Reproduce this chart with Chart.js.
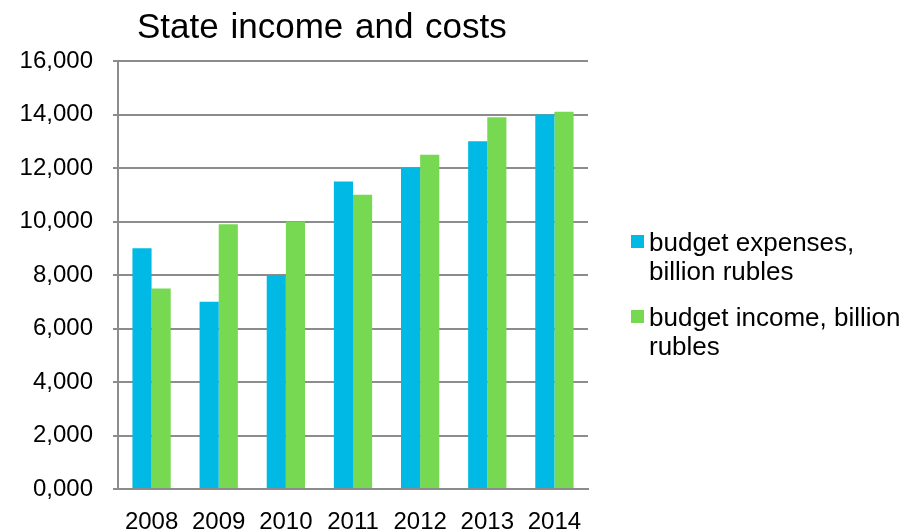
<!DOCTYPE html>
<html>
<head>
<meta charset="utf-8">
<script src="https://cdn.jsdelivr.net/npm/chart.js@4/dist/chart.umd.min.js"></script>
<style>
  html, body { margin: 0; padding: 0; background: #fff; }
  #wrap { width: 909px; height: 531px; }
</style>
</head>
<body>
<div id="wrap"><canvas id="budgetChart" width="909" height="531"></canvas></div>
<script>
var years = ['2008', '2009', '2010', '2011', '2012', '2013', '2014'];
var expenses = [9000, 7000, 8000, 11500, 12000, 13000, 14000];
var income = [7500, 9900, 10000, 11000, 12500, 13900, 14100];
var yTickLabels = ['0,000', '2,000', '4,000', '6,000', '8,000', '10,000', '12,000', '14,000', '16,000'];
var seriesNames = [['budget expenses,', 'billion rubles'], ['budget income, billion', 'rubles']];
var seriesColors = ['#00B9E4', '#77D852'];
var titleText = 'State income and costs';

var FONT = "'Liberation Sans', Arial, sans-serif";

// title and legend are drawn by hand so they sit where the original has them
var decorations = {
    id: 'decorations',
    afterDraw: function(chart) {
        var ctx = chart.ctx;
        ctx.save();
        ctx.fillStyle = '#000';
        ctx.font = '35px ' + FONT;
        ctx.textAlign = 'left';
        ctx.textBaseline = 'alphabetic';
        ctx.wordSpacing = '2px';
        ctx.fillText(titleText, 137, 38);
        ctx.wordSpacing = '0px';

        ctx.font = '26px ' + FONT;
        ctx.textBaseline = 'alphabetic';
        var baselines = [251, 326];
        for (var i = 0; i < seriesNames.length; i++) {
            ctx.fillStyle = seriesColors[i];
            ctx.fillRect(631, baselines[i] - 16, 13, 13);
            ctx.fillStyle = '#000';
            for (var j = 0; j < seriesNames[i].length; j++) {
                ctx.fillText(seriesNames[i][j], 649, baselines[i] + j * 29);
            }
        }
        ctx.restore();
    }
};

var ctx = document.getElementById('budgetChart').getContext('2d');
var budgetChart = new Chart(ctx, {
    type: 'bar',
    data: {
        labels: years,
        datasets: [{
            label: seriesNames[0].join(' '),
            data: expenses,
            backgroundColor: seriesColors[0]
        }, {
            label: seriesNames[1].join(' '),
            data: income,
            backgroundColor: seriesColors[1]
        }]
    },
    options: {
        responsive: false,
        animation: false,
        layout: {
            padding: { left: 0, right: 321, top: 61, bottom: 0 }
        },
        datasets: {
            bar: { categoryPercentage: 0.57, barPercentage: 1.0 }
        },
        plugins: {
            legend: { display: false },
            title: { display: false },
            tooltip: { enabled: false }
        },
        scales: {
            x: {
                grid: { display: false, drawTicks: false },
                border: { display: true, color: '#8c8c8c', width: 2 },
                ticks: {
                    color: '#000',
                    font: { family: FONT, size: 24 },
                    padding: 19,
                    maxRotation: 0,
                    autoSkip: false
                },
                afterFit: function(scale) { scale.height = 42; }
            },
            y: {
                min: 0,
                max: 16000,
                grid: {
                    color: '#8c8c8c',
                    lineWidth: 2,
                    tickLength: 5
                },
                border: { display: true, color: '#8c8c8c', width: 2 },
                ticks: {
                    stepSize: 2000,
                    color: '#000',
                    font: { family: FONT, size: 24 },
                    padding: 20,
                    callback: function(value, index) { return yTickLabels[index]; }
                },
                afterFit: function(scale) { scale.width = 118; }
            }
        }
    },
    plugins: [decorations]
});
</script>
</body>
</html>
